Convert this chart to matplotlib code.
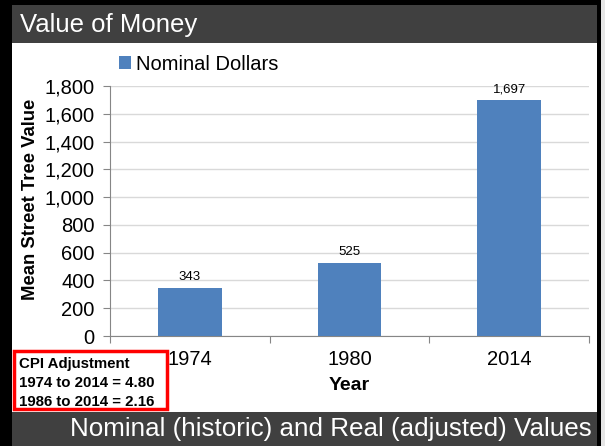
import matplotlib.pyplot as plt
from matplotlib.patches import Rectangle

years = ["1974", "1980", "2014"]
nominal = [343, 525, 1697]
value_labels = ["343", "525", "1,697"]
yticks = [0, 200, 400, 600, 800, 1000, 1200, 1400, 1600, 1800]
cpi_lines = ["CPI Adjustment", "1974 to 2014 = 4.80", "1986 to 2014 = 2.16"]

W, H = 605, 446
plt.rcParams['font.family'] = ['Liberation Sans', 'DejaVu Sans']

fig = plt.figure(figsize=(W / 100, H / 100), dpi=100)
fig.patch.set_facecolor('white')


def box(x0, y0, x1, y1, color, **kw):
    # pixel coords, y measured from the top
    fig.add_artist(Rectangle((x0 / W, 1 - y1 / H), (x1 - x0) / W, (y1 - y0) / H,
                             transform=fig.transFigure, facecolor=color,
                             edgecolor=kw.pop('ec', 'none'), **kw))


# frame, header and footer bars
box(601, 0, W, H, '#e6e6e6')
box(0, 0, 12, H, 'black')
box(0, 0, 601, 5, 'black')
box(597, 0, 601, H, 'black')
box(12, 5, 597, 43, '#404040')
box(12, 412, 597, H, '#404040')
fig.text(20 / W, 1 - 25 / H, "Value of Money", color='white', fontsize=18.5,
         va='center', ha='left')
fig.text(592 / W, 1 - 429 / H, "Nominal (historic) and Real (adjusted) Values",
         color='white', fontsize=18.7, va='center', ha='right')

ax = fig.add_axes([110 / W, (H - 336) / H, 479 / W, 250 / H])
x = range(len(years))
ax.bar(x, nominal, width=0.4, color='#4F81BD', label='Nominal Dollars', zorder=3)
for xi, v, lab in zip(x, nominal, value_labels):
    ax.text(xi, v + 35, lab, ha='center', va='bottom', fontsize=9.5)

ax.set_xlim(-0.5, 2.5)
ax.set_ylim(0, 1800)
ax.set_yticks(yticks)
ax.set_yticklabels([f"{t:,}" for t in yticks], fontsize=14.5)
ax.set_xticks([-0.5, 0.5, 1.5, 2.5])
ax.set_xticklabels([])
ax.set_xticks(list(x), minor=True)
ax.set_xticklabels(years, minor=True, fontsize=14.5)
ax.tick_params(axis='x', which='minor', length=0, pad=10)
ax.tick_params(axis='x', which='major', length=5, color='#868686')
ax.tick_params(axis='y', length=5, color='#868686', pad=6)
ax.grid(axis='y', color='#d9d9d9', linewidth=1, zorder=0)
for s in ['top', 'right']:
    ax.spines[s].set_visible(False)
for s in ['left', 'bottom']:
    ax.spines[s].set_color('#868686')

ax.set_ylabel("Mean Street Tree Value", fontsize=13.3, fontweight='bold', va='center')
ax.yaxis.set_label_coords(-0.165, 0.545)
ax.set_xlabel("Year", fontsize=14, fontweight='bold', va='center')
ax.xaxis.set_label_coords(0.5, -0.196)
fig.legend(*ax.get_legend_handles_labels(), loc='center left',
           bbox_to_anchor=(119 / W, 1 - 64 / H), frameon=False, fontsize=14.5,
           handlelength=0.6, handleheight=0.6, handletextpad=0.25,
           borderaxespad=0, borderpad=0)

# CPI note box
box(14, 351, 167, 409, 'white', ec='red', linewidth=2.5)
for i, line in enumerate(cpi_lines):
    fig.text(19 / W, 1 - (364 + i * 19) / H, line, fontsize=10.8, fontweight='bold',
             va='center', ha='left')

fig.savefig('out.png', dpi=100)
